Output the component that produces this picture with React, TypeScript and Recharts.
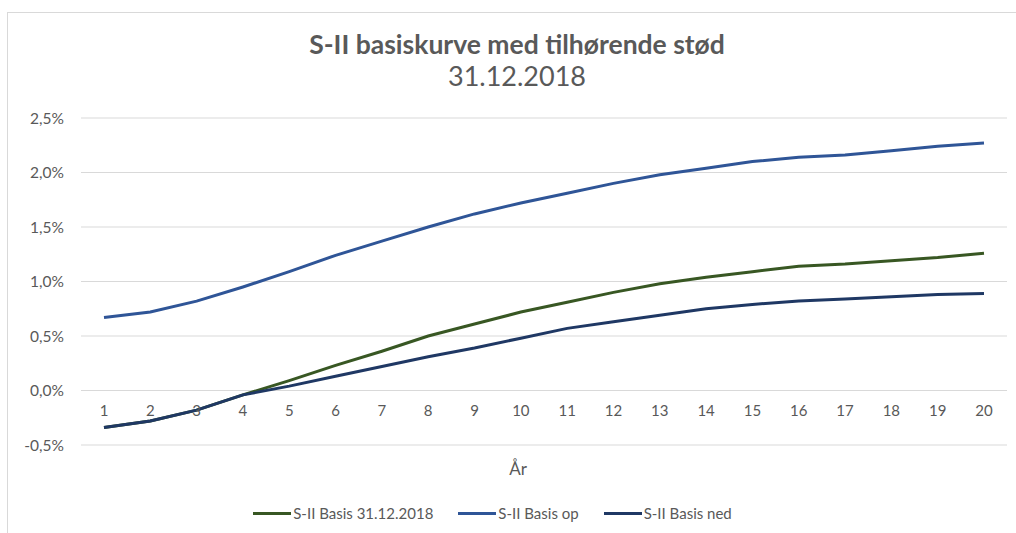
import React from "react";
import { LineChart, Line, XAxis, YAxis, CartesianGrid, Legend } from "recharts";

const years = [1, 2, 3, 4, 5, 6, 7, 8, 9, 10, 11, 12, 13, 14, 15, 16, 17, 18, 19, 20];
const basis = [-0.34, -0.28, -0.18, -0.04, 0.09, 0.23, 0.36, 0.5, 0.61, 0.72, 0.81, 0.9, 0.98, 1.04, 1.09, 1.14, 1.16, 1.19, 1.22, 1.26];
const basisOp = [0.67, 0.72, 0.82, 0.95, 1.09, 1.24, 1.37, 1.5, 1.62, 1.72, 1.81, 1.9, 1.98, 2.04, 2.1, 2.14, 2.16, 2.2, 2.24, 2.27];
const basisNed = [-0.34, -0.28, -0.18, -0.04, 0.04, 0.13, 0.22, 0.31, 0.39, 0.48, 0.57, 0.63, 0.69, 0.75, 0.79, 0.82, 0.84, 0.86, 0.88, 0.89];
const yTicks = [-0.5, 0, 0.5, 1, 1.5, 2, 2.5];

const seriesNames = ["S-II Basis 31.12.2018", "S-II Basis op", "S-II Basis ned"];
const seriesColors = ["#385723", "#2F5597", "#1F3864"];

const data = years.map((yr, i) => ({
  year: yr,
  basis: basis[i],
  op: basisOp[i],
  ned: basisNed[i],
}));

const FONT = "Lato, 'Open Sans', sans-serif";
const GREY = "#595959";
const W = 1016;
const H = 533;
const TOP = 118;
const LEGEND_H = 48;
const XAXIS_H = 40;
const PLOT_BOTTOM = H - LEGEND_H - XAXIS_H;
const Y_MIN = -0.5;
const Y_MAX = 2.5;
const zeroY = PLOT_BOTTOM - ((PLOT_BOTTOM - TOP) * (0 - Y_MIN)) / (Y_MAX - Y_MIN);

const fmtPct = (v: number) => v.toFixed(1).replace(".", ",") + "%";

// year labels sit just under the 0% gridline, not at the bottom of the plot
function YearTick(props: any) {
  const { x, payload } = props;
  return (
    <text x={x} y={zeroY + 22} textAnchor="middle" dominantBaseline="middle" fill={GREY} fontSize={15} fontFamily={FONT}>
      {payload.value}
    </text>
  );
}

function LegendBox() {
  return (
    <div style={{ height: LEGEND_H, display: "flex", justifyContent: "center", alignItems: "center", paddingTop: 8, paddingRight: 22, boxSizing: "border-box", gap: 25 }}>
      {seriesNames.map((n, i) => (
        <div key={n} style={{ display: "flex", alignItems: "center" }}>
          <div style={{ width: 38, height: 3, background: seriesColors[i], marginRight: 2 }} />
          <span style={{ fontFamily: FONT, fontSize: 15, color: GREY }}>{n}</span>
        </div>
      ))}
    </div>
  );
}

export default function App() {
  return (
    <div style={{ position: "absolute", left: 0, top: 0, width: W, height: H, background: "#fff", overflow: "hidden" }}>
      <div style={{ position: "absolute", left: 7, top: 12, width: W + 20, height: H + 20, border: "1px solid #D9D9D9" }} />
      <div style={{ position: "absolute", left: 0, top: 28, width: 1034, textAlign: "center", fontFamily: FONT, fontWeight: 700, fontSize: 26.5, lineHeight: "32px", color: GREY }}>
        S-II basiskurve med tilhørende stød
      </div>
      <div style={{ position: "absolute", left: 0, top: 60, width: 1034, textAlign: "center", fontFamily: FONT, fontSize: 27, lineHeight: "32px", color: GREY }}>
        31.12.2018
      </div>
      <div style={{ position: "absolute", left: 0, top: 458, width: 1036, textAlign: "center", fontFamily: FONT, fontSize: 17, color: GREY }}>
        År
      </div>
      <div style={{ position: "absolute", left: 0, top: 0 }}>
        <LineChart width={W} height={H} data={data} margin={{ top: TOP, right: 9, left: 0, bottom: 0 }}>
          <CartesianGrid vertical={false} stroke="#D9D9D9" strokeWidth={1} />
          <XAxis
            dataKey="year"
            axisLine={false}
            tickLine={false}
            height={XAXIS_H}
            tick={<YearTick />}
            interval={0}
            padding={{ left: 23, right: 23 }}
          />
          <YAxis
            domain={[Y_MIN, Y_MAX]}
            ticks={yTicks}
            tickFormatter={fmtPct}
            width={81}
            axisLine={false}
            tickLine={false}
            tickSize={0}
            tickMargin={17}
            tick={{ fill: GREY, fontSize: 15.5, fontFamily: FONT }}
          />
          <Legend verticalAlign="bottom" height={LEGEND_H} content={<LegendBox />} />
          <Line type="linear" dataKey="basis" stroke={seriesColors[0]} strokeWidth={3} dot={false} isAnimationActive={false} />
          <Line type="linear" dataKey="op" stroke={seriesColors[1]} strokeWidth={3} dot={false} isAnimationActive={false} />
          <Line type="linear" dataKey="ned" stroke={seriesColors[2]} strokeWidth={3} dot={false} isAnimationActive={false} />
        </LineChart>
      </div>
    </div>
  );
}
